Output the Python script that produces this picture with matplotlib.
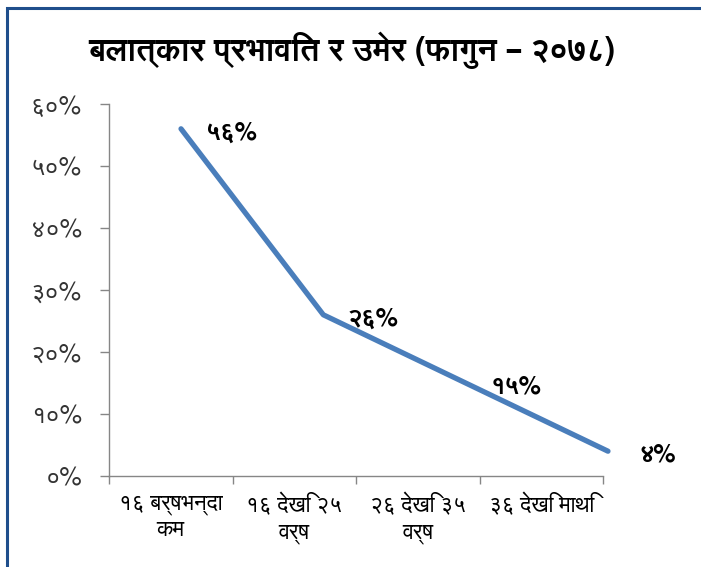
import matplotlib
matplotlib.use("Agg")
import matplotlib.pyplot as plt
from matplotlib.patches import Rectangle

# ---- data -------------------------------------------------------------
categories = ["१६ बर्षभन्दा\nकम", "१६ देखि २५\nवर्ष", "२६ देखि ३५\nवर्ष", "३६ देखि माथि"]
shares = [56, 26, 15, 4]
share_labels = ["५६%", "२६%", "१५%", "४%"]
y_ticks = [0, 10, 20, 30, 40, 50, 60]
y_tick_labels = ["०%", "१०%", "२०%", "३०%", "४०%", "५०%", "६०%"]
title = "बलात्कार प्रभावित र उमेर (फागुन – २०७८)"

# ---- style ------------------------------------------------------------
LINE = "#4A7EBB"
AXIS = "#868686"
FRAME = "#1F4E8C"
FONT = ["FreeSans", "Noto Sans Devanagari", "DejaVu Sans"]
plt.rcParams["font.family"] = FONT

W, H, DPI = 701, 567, 100
fig = plt.figure(figsize=(W / DPI, H / DPI), dpi=DPI)
fig.patch.set_facecolor("white")

# axes box in pixels: x 109..603, y 104..476
ax = fig.add_axes([109 / W, 1 - 476 / H, (603 - 109) / W, (476 - 104) / H])
ax.set_facecolor("none")
ax.set_ylim(0, 60)
ax.set_xlim(-0.5, len(categories) - 0.5)

for sp in ("top", "right"):
    ax.spines[sp].set_visible(False)
for sp in ("left", "bottom"):
    ax.spines[sp].set_color(AXIS)
    ax.spines[sp].set_linewidth(1.0)

ax.set_yticks(y_ticks)
ax.set_yticklabels(y_tick_labels, fontsize=18, color="#333333")
ax.tick_params(axis="y", length=6.5, width=1.0, color=AXIS, pad=13)

# category boundaries carry the tick marks, labels sit between them
ax.set_xticks([i - 0.5 for i in range(len(categories) + 1)])
ax.set_xticklabels([])
ax.set_xticks(range(len(categories)), minor=True)
ax.set_xticklabels(categories, minor=True, fontsize=16, color="black",
                   linespacing=1.3)
ax.tick_params(axis="x", which="major", length=5.5, width=1.0, color=AXIS)
ax.tick_params(axis="x", which="minor", length=0, pad=13)

# the line in the source is stretched relative to the category slots,
# so it lives on its own (hidden) x scale
lx = ax.twiny()
lx.set_xlim(-0.506, 2.965)
lx.set_ylim(0, 60)
lx.axis("off")
xs = list(range(len(shares)))
lx.plot(xs, shares, color=LINE, lw=3.8, solid_capstyle="round",
        solid_joinstyle="round", clip_on=False, zorder=3)
for x, y, s in zip(xs, shares, share_labels):
    lx.annotate(s, (x, y), xytext=(36, -3), textcoords="offset points",
                ha="center", va="center", fontsize=18, fontweight="bold",
                color="black", annotation_clip=False)

fig.text(352 / W, 1 - 50 / H, title, ha="center", va="center",
         fontsize=23, fontweight="bold", color="black")

# outer frame (runs off the right and bottom edges like the source)
fig.add_artist(Rectangle((6.5 / W, -0.05), 1.2, 1 - 8 / H + 0.05,
                         transform=fig.transFigure, fill=False,
                         edgecolor=FRAME, linewidth=2.2, zorder=10))

fig.savefig("out.png", dpi=DPI, facecolor="white")
